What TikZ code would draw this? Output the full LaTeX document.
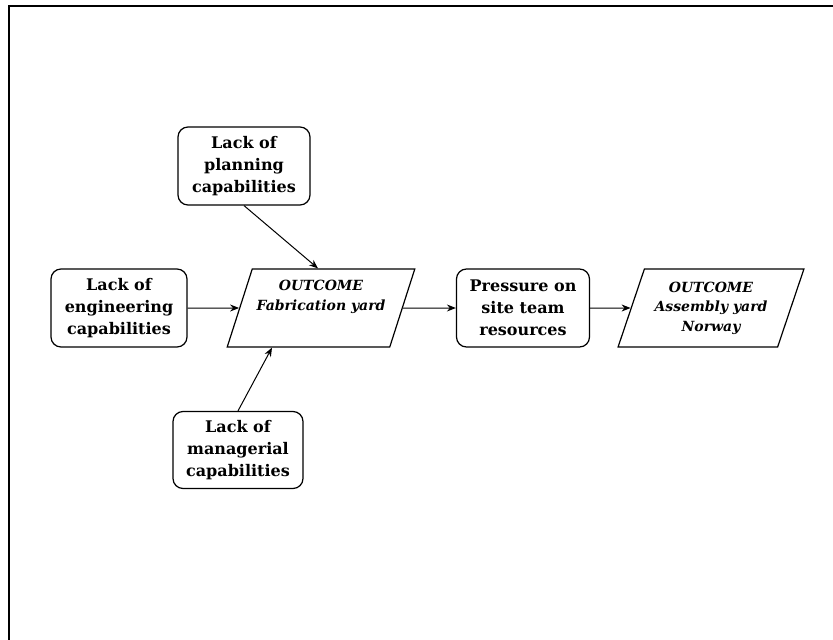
\documentclass[tikz,border=0pt]{standalone}
\usepackage{fontspec}
\setmainfont{DejaVu Serif}
\usetikzlibrary{shapes.geometric,arrows.meta}
\begin{document}
\begin{tikzpicture}[x=1pt,y=-1pt,
  causebox/.style={draw, line width=1.2pt, rounded corners=10pt, align=center,
    minimum width=132pt, minimum height=78pt, inner sep=0pt,
    font=\fontsize{16}{22}\selectfont\bfseries},
  outcomebox/.style={draw, line width=1.2pt, trapezium, trapezium stretches=true,
    trapezium left angle=67, trapezium right angle=113, align=center,
    minimum width=188pt, minimum height=78pt, inner sep=0pt,
    font=\fontsize{14}{19.5}\selectfont\bfseries\itshape},
  link/.style={line width=1pt, -{Stealth[length=9pt,width=7pt]}}]
\useasboundingbox (0,0) rectangle (833,640);
% page frame
\draw[line width=2pt] (9,640) -- (9,6) -- (833,6);
% causes and outcomes
\node[causebox] (plan) at (244,166) {Lack of\\planning\\capabilities};
\node[causebox, minimum width=136pt] (eng) at (119,308) {Lack of\\engineering\\capabilities};
\node[causebox, minimum width=130pt, minimum height=77pt] (mgr) at (238,450) {Lack of\\managerial\\capabilities};
\node[outcomebox] (fab) at (321,308) {OUTCOME\\Fabrication yard\\\strut};
\node[causebox, minimum width=133pt] (press) at (523,308) {Pressure on\\site team\\resources};
\node[outcomebox, minimum width=186pt] (asm) at (711,308) {OUTCOME\\Assembly yard\\Norway};
% connectors
\draw[link] (plan.south) -- (fab.north -| 318,0);
\draw[link] (eng) -- (fab);
\draw[link] (mgr.north) -- (fab.south -| 272,0);
\draw[link] (fab) -- (press);
\draw[link] (press) -- (asm);
\end{tikzpicture}
\end{document}
